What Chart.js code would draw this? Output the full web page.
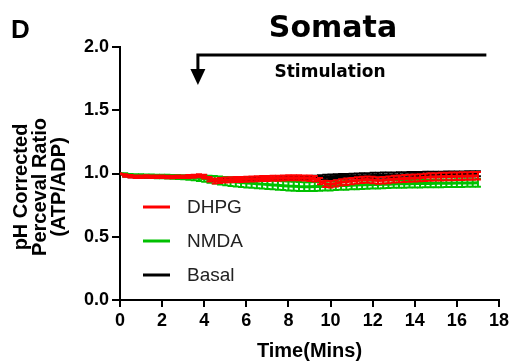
<!DOCTYPE html>
<html lang="en">
<head>
<meta charset="UTF-8">
<title>Somata</title>
<script src="https://cdn.jsdelivr.net/npm/chart.js"></script>
<style>
    body { margin: 0; background: #fff; }
    .box { width: 512px; height: 363px; position: relative; }
</style>
</head>
<body>
<div class="box">
    <canvas id="grafico"></canvas>
</div>

<script>
    // tempo em minutos (a cada 0.25 min)
    const tempos = [
        0, 0.25, 0.5, 0.75, 1, 1.25, 1.5, 1.75, 2, 2.25, 2.5, 2.75, 3, 3.25, 3.5, 3.75,
        4, 4.25, 4.5, 4.75, 5, 5.25, 5.5, 5.75, 6, 6.25, 6.5, 6.75, 7, 7.25, 7.5, 7.75,
        8, 8.25, 8.5, 8.75, 9, 9.25, 9.5, 9.75, 10, 10.25, 10.5, 10.75, 11, 11.25, 11.5, 11.75,
        12, 12.25, 12.5, 12.75, 13, 13.25, 13.5, 13.75, 14, 14.25, 14.5, 14.75, 15, 15.25, 15.5, 15.75,
        16, 16.25, 16.5, 16.75, 17
    ];

    const dhpg = [
        1.000, 0.985, 0.978, 0.975, 0.975, 0.976, 0.975, 0.974, 0.975, 0.973, 0.972, 0.974, 0.975, 0.977, 0.978, 0.982,
        0.975, 0.955, 0.940, 0.945, 0.948, 0.950, 0.952, 0.953, 0.955, 0.956, 0.958, 0.960, 0.961, 0.962, 0.963, 0.965,
        0.966, 0.967, 0.966, 0.965, 0.963, 0.958, 0.940, 0.918, 0.915, 0.922, 0.930, 0.935, 0.940, 0.945, 0.950, 0.952,
        0.948, 0.945, 0.947, 0.950, 0.955, 0.958, 0.960, 0.962, 0.965, 0.967, 0.970, 0.972, 0.973, 0.975, 0.976, 0.977,
        0.978, 0.979, 0.980, 0.981, 0.982
    ];
    const dhpgErro = [
        0.000, 0.010, 0.010, 0.010, 0.010, 0.010, 0.010, 0.010, 0.010, 0.010, 0.010, 0.010, 0.010, 0.012, 0.012, 0.012,
        0.015, 0.018, 0.020, 0.020, 0.020, 0.020, 0.020, 0.020, 0.020, 0.020, 0.020, 0.020, 0.020, 0.020, 0.020, 0.020,
        0.020, 0.020, 0.020, 0.020, 0.022, 0.022, 0.024, 0.025, 0.025, 0.025, 0.025, 0.025, 0.025, 0.025, 0.025, 0.025,
        0.026, 0.026, 0.026, 0.027, 0.027, 0.027, 0.028, 0.028, 0.028, 0.028, 0.029, 0.029, 0.029, 0.030, 0.030, 0.030,
        0.030, 0.030, 0.030, 0.030, 0.030
    ];

    const nmda = [
        1.000, 0.990, 0.985, 0.983, 0.982, 0.980, 0.978, 0.977, 0.976, 0.975, 0.973, 0.972, 0.970, 0.968, 0.966, 0.963,
        0.960, 0.955, 0.950, 0.945, 0.940, 0.936, 0.932, 0.928, 0.925, 0.922, 0.919, 0.916, 0.913, 0.910, 0.907, 0.904,
        0.901, 0.899, 0.897, 0.896, 0.896, 0.897, 0.898, 0.900, 0.901, 0.903, 0.905, 0.906, 0.908, 0.909, 0.911, 0.912,
        0.913, 0.914, 0.915, 0.916, 0.917, 0.918, 0.918, 0.919, 0.920, 0.920, 0.921, 0.921, 0.922, 0.922, 0.923, 0.923,
        0.924, 0.924, 0.925, 0.925, 0.926
    ];
    const nmdaErro = [
        0.000, 0.012, 0.012, 0.012, 0.012, 0.012, 0.014, 0.014, 0.014, 0.015, 0.015, 0.016, 0.016, 0.018, 0.020, 0.022,
        0.025, 0.028, 0.030, 0.032, 0.033, 0.034, 0.035, 0.035, 0.035, 0.035, 0.035, 0.035, 0.035, 0.035, 0.035, 0.035,
        0.035, 0.035, 0.035, 0.035, 0.035, 0.035, 0.035, 0.035, 0.035, 0.034, 0.034, 0.034, 0.033, 0.033, 0.033, 0.032,
        0.032, 0.032, 0.031, 0.031, 0.030, 0.030, 0.030, 0.030, 0.030, 0.030, 0.030, 0.030, 0.030, 0.030, 0.030, 0.030,
        0.030, 0.030, 0.030, 0.030, 0.030
    ];

    const basal = [
        1.000, 0.985, 0.978, 0.976, 0.975, 0.975, 0.975, 0.974, 0.974, 0.974, 0.973, 0.973, 0.973, 0.973, 0.974, 0.974,
        0.972, 0.958, 0.946, 0.946, 0.948, 0.950, 0.951, 0.952, 0.954, 0.955, 0.957, 0.958, 0.960, 0.961, 0.962, 0.963,
        0.964, 0.965, 0.965, 0.965, 0.966, 0.968, 0.970, 0.972, 0.975, 0.976, 0.977, 0.978, 0.980, 0.981, 0.982, 0.983,
        0.985, 0.986, 0.987, 0.987, 0.988, 0.989, 0.990, 0.991, 0.992, 0.992, 0.993, 0.993, 0.994, 0.994, 0.995, 0.995,
        0.996, 0.996, 0.997, 0.997, 0.998
    ];
    const basalErro = [
        0.000, 0.008, 0.008, 0.008, 0.008, 0.008, 0.008, 0.008, 0.008, 0.008, 0.008, 0.008, 0.008, 0.008, 0.008, 0.008,
        0.008, 0.008, 0.008, 0.008, 0.008, 0.008, 0.008, 0.008, 0.008, 0.008, 0.008, 0.008, 0.008, 0.008, 0.008, 0.008,
        0.008, 0.008, 0.008, 0.010, 0.012, 0.014, 0.016, 0.018, 0.018, 0.018, 0.019, 0.019, 0.019, 0.019, 0.019, 0.019,
        0.020, 0.020, 0.020, 0.020, 0.020, 0.020, 0.020, 0.020, 0.020, 0.020, 0.020, 0.020, 0.020, 0.020, 0.020, 0.020,
        0.020, 0.020, 0.020, 0.020, 0.020
    ];

    const ticksY = [0, 0.5, 1.0, 1.5, 2.0];
    const ticksX = [0, 2, 4, 6, 8, 10, 12, 14, 16, 18];

    // estimulo: inicio e fim em minutos
    const estimuloInicio = 3.7;
    const estimuloFim = 17.4;

    function pontos(valores) {
        return tempos.map((t, i) => ({ x: t, y: valores[i] }));
    }

    const series = [
        { label: 'DHPG', valores: dhpg, erro: dhpgErro, cor: '#ff0000' },
        { label: 'NMDA', valores: nmda, erro: nmdaErro, cor: '#00c000' },
        { label: 'Basal', valores: basal, erro: basalErro, cor: '#000000' }
    ];

    const fonteArial = "'Liberation Sans', Arial, sans-serif";
    const fonteDejavu = "'DejaVu Sans', Verdana, sans-serif";

    // barras de erro desenhadas antes de cada linha
    const barrasErro = {
        id: 'barrasErro',
        beforeDatasetDraw(chart, args) {
            const s = series[args.index];
            const ctx = chart.ctx;
            const sx = chart.scales.x, sy = chart.scales.y;
            ctx.save();
            ctx.strokeStyle = s.cor;
            ctx.lineWidth = 2;
            s.valores.forEach((v, i) => {
                const e = s.erro[i];
                if (!e) return;
                const x = sx.getPixelForValue(tempos[i]);
                const y1 = sy.getPixelForValue(v + e);
                const y2 = sy.getPixelForValue(v - e);
                ctx.beginPath();
                ctx.moveTo(x, y1); ctx.lineTo(x, y2);
                ctx.moveTo(x - 3, y1); ctx.lineTo(x + 3, y1);
                ctx.moveTo(x - 3, y2); ctx.lineTo(x + 3, y2);
                ctx.stroke();
            });
            ctx.restore();
        }
    };

    const extras = {
        id: 'extras',
        afterDraw(chart) {
            const ctx = chart.ctx;
            const sx = chart.scales.x, sy = chart.scales.y;
            ctx.save();

            // letra do painel
            ctx.fillStyle = '#000';
            ctx.font = `bold 26px ${fonteArial}`;
            ctx.textAlign = 'left';
            ctx.textBaseline = 'alphabetic';
            ctx.fillText('D', 11, 38);

            // titulo
            ctx.font = `bold 30px ${fonteDejavu}`;
            ctx.textAlign = 'center';
            ctx.fillText('Somata', 333, 37);

            // titulo do eixo y
            ctx.save();
            ctx.translate(40, 187);
            ctx.rotate(-Math.PI / 2);
            ctx.font = `bold 20px ${fonteArial}`;
            ctx.textAlign = 'center';
            ctx.textBaseline = 'middle';
            ctx.fillText('pH Corrected', 0, -19);
            ctx.fillText('Perceval Ratio', 0, 0);
            ctx.fillText('(ATP/ADP)', 0, 19);
            ctx.restore();

            // seta do estimulo
            const xa = sx.getPixelForValue(estimuloInicio);
            const xb = sx.getPixelForValue(estimuloFim);
            const yl = sy.getPixelForValue(1.937);
            const yp = sy.getPixelForValue(1.70);
            ctx.strokeStyle = '#000';
            ctx.lineWidth = 3;
            ctx.beginPath();
            ctx.moveTo(xb, yl);
            ctx.lineTo(xa, yl);
            ctx.lineTo(xa, yp - 14);
            ctx.stroke();
            ctx.beginPath();
            ctx.moveTo(xa - 7.5, yp - 16);
            ctx.lineTo(xa + 7.5, yp - 16);
            ctx.lineTo(xa, yp);
            ctx.closePath();
            ctx.fill();

            ctx.font = `bold 17px ${fonteDejavu}`;
            ctx.textAlign = 'center';
            ctx.textBaseline = 'alphabetic';
            ctx.fillText('Stimulation', 330, 77);

            // legenda
            ctx.font = `19px ${fonteArial}`;
            ctx.textAlign = 'left';
            ctx.textBaseline = 'middle';
            series.forEach((s, i) => {
                const y = 207 + i * 34;
                ctx.strokeStyle = s.cor;
                ctx.lineWidth = 3;
                ctx.beginPath();
                ctx.moveTo(143, y);
                ctx.lineTo(170, y);
                ctx.stroke();
                ctx.fillStyle = '#222';
                ctx.fillText(s.label, 187, y + 1);
            });

            ctx.restore();
        }
    };

    const config = {
        type: 'line',
        data: {
            datasets: series.map(s => ({
                label: s.label,
                data: pontos(s.valores),
                borderColor: s.cor,
                backgroundColor: s.cor,
                borderWidth: 3,
                pointRadius: 0,
                tension: 0,
                fill: false
            }))
        },
        options: {
            responsive: true,
            maintainAspectRatio: false,
            animation: false,
            events: [],
            layout: { padding: { left: 0, right: 12, top: 47, bottom: 0 } },
            plugins: {
                legend: { display: false },
                tooltip: { enabled: false },
                title: { display: false }
            },
            scales: {
                x: {
                    type: 'linear',
                    min: 0,
                    max: 18,
                    afterBuildTicks: s => { s.ticks = ticksX.map(v => ({ value: v })); },
                    afterFit: s => { s.height = 63; },
                    ticks: {
                        color: '#000',
                        font: { family: fonteArial, size: 18, weight: 'bold' },
                        padding: 3,
                        maxRotation: 0
                    },
                    grid: { drawOnChartArea: false, drawTicks: true, tickLength: 7, color: '#000', lineWidth: 2 },
                    border: { color: '#000', width: 2 },
                    title: {
                        display: true,
                        text: 'Time(Mins)',
                        color: '#000',
                        font: { family: fonteArial, size: 20, weight: 'bold' },
                        padding: { top: 0, bottom: 0 }
                    }
                },
                y: {
                    min: 0,
                    max: 2,
                    afterBuildTicks: s => { s.ticks = ticksY.map(v => ({ value: v })); },
                    afterFit: s => { s.width = 120; },
                    ticks: {
                        color: '#000',
                        font: { family: fonteArial, size: 18, weight: 'bold' },
                        padding: 3,
                        callback: v => Number(v).toFixed(1)
                    },
                    grid: { drawOnChartArea: false, drawTicks: true, tickLength: 8, color: '#000', lineWidth: 2 },
                    border: { color: '#000', width: 2 }
                }
            }
        },
        plugins: [barrasErro, extras]
    };

    new Chart(document.getElementById('grafico'), config);
</script>
</body>
</html>
